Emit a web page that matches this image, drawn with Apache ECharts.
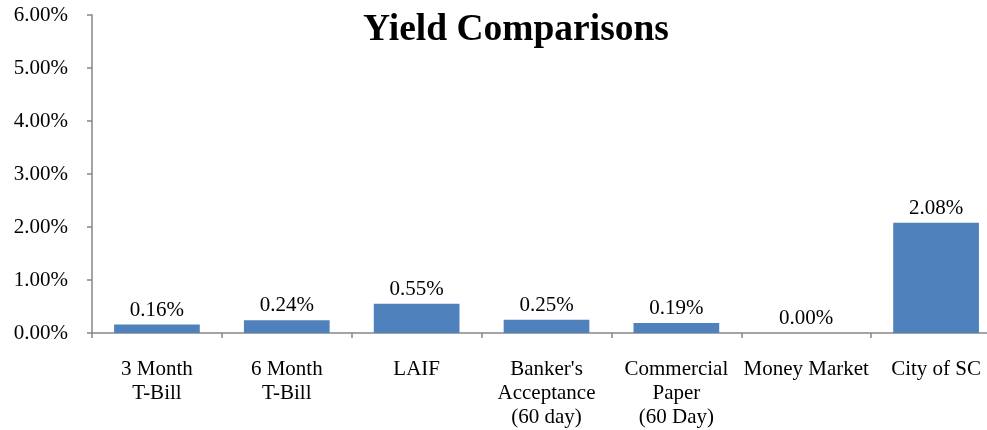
<!DOCTYPE html>
<html>
<head>
<meta charset="utf-8">
<script src="https://cdn.jsdelivr.net/npm/echarts@6/dist/echarts.min.js"></script>
<style>
  html, body { margin: 0; padding: 0; background: #ffffff; overflow: hidden; }
  /* the plot runs a little past the right edge of the window */
  #chart { width: 1001px; height: 430px; }
</style>
</head>
<body>
<div id="chart"></div>
<script>
// Investment yield comparison, in percent
const categories = [
  "3 Month\nT-Bill",
  "6 Month\nT-Bill",
  "LAIF",
  "Banker's\nAcceptance\n(60 day)",
  "Commercial\nPaper\n(60 Day)",
  "Money Market",
  "City of SC"
];
const yields = [0.16, 0.24, 0.55, 0.25, 0.19, 0.00, 2.08];
const yTicks = [0, 1, 2, 3, 4, 5, 6];

const serif = "'Liberation Serif', 'Times New Roman', serif";
const chart = echarts.init(document.getElementById('chart'));

chart.setOption({
  animation: false,
  backgroundColor: '#ffffff',
  title: {
    text: 'Yield Comparisons',
    left: 511,
    top: 6,
    textAlign: 'center',
    textStyle: { fontFamily: serif, fontWeight: 'bold', fontSize: 37.5, color: '#000' }
  },
  grid: { left: 92, right: 0, top: 15, bottom: 97, containLabel: false },
  xAxis: {
    type: 'category',
    data: categories,
    axisLine: { lineStyle: { color: '#868686', width: 1.5 } },
    axisTick: { show: true, length: 5, lineStyle: { color: '#868686', width: 1.5 } },
    axisLabel: {
      interval: 0,
      margin: 24,
      fontFamily: serif,
      fontSize: 21,
      color: '#000',
      lineHeight: 24
    }
  },
  yAxis: {
    type: 'value',
    min: yTicks[0],
    max: yTicks[yTicks.length - 1],
    interval: 1,
    splitLine: { show: false },
    axisLine: { show: true, lineStyle: { color: '#868686', width: 1.5 } },
    axisTick: { show: true, length: 5, lineStyle: { color: '#868686', width: 1.5 } },
    axisLabel: {
      margin: 24,
      fontFamily: serif,
      fontSize: 21,
      color: '#000',
      formatter: v => v.toFixed(2) + '%'
    }
  },
  series: [{
    type: 'bar',
    data: yields,
    barCategoryGap: '34%',
    itemStyle: { color: '#4F81BD' },
    label: {
      show: true,
      position: 'top',
      distance: 4,
      fontFamily: serif,
      fontSize: 21,
      color: '#000',
      formatter: p => p.value.toFixed(2) + '%'
    }
  }]
});
</script>
</body>
</html>
